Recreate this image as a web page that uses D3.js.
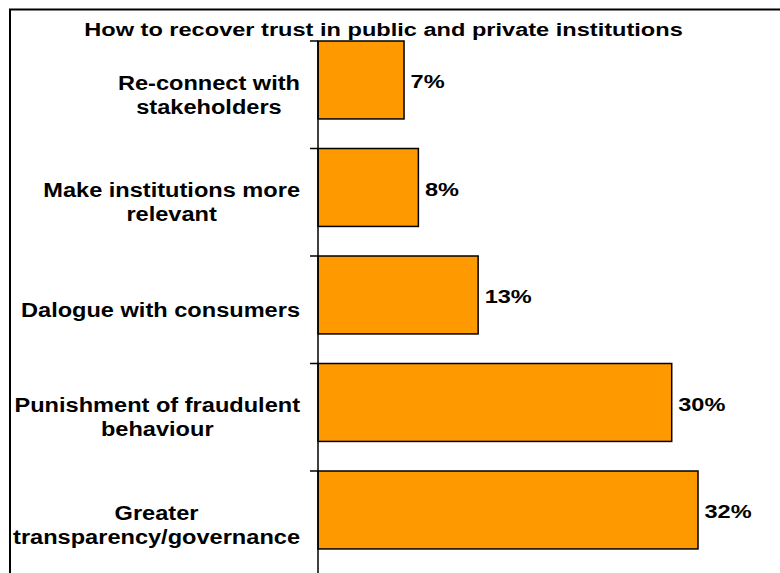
<!DOCTYPE html>
<html><head><meta charset="utf-8">
<script src="https://cdn.jsdelivr.net/npm/d3@7"></script>
<style>body{margin:0;background:#fff}svg{display:block}text{font-family:"Liberation Sans",Arial,sans-serif;font-weight:bold;fill:#000}</style>
</head><body>
<script>
const title = "How to recover trust in public and private institutions";
const categories = [
  ["Re-connect with", "stakeholders"],
  ["Make institutions more", "relevant"],
  ["Dalogue with consumers"],
  ["Punishment of fraudulent", "behaviour"],
  ["Greater", "transparency/governance"]
];
const values = [7.2, 8.4, 13.4, 29.6, 31.8];
const valueLabels = ["7%", "8%", "13%", "30%", "32%"];

const W = 780, H = 573;
const svg = d3.select("body").append("svg").attr("width", W).attr("height", H);

function stretchedText(parent, x, y, str, size, sx, anchor) {
  const g = parent.append("g").attr("transform", `translate(${x},${y}) scale(${sx},1)`);
  return g.append("text").attr("text-anchor", anchor).style("font-size", size + "px").text(str);
}

svg.append("rect").attr("x", 10).attr("y", 9.5).attr("width", 820).attr("height", 700)
  .attr("fill", "none").attr("stroke", "#000").attr("stroke-width", 2);

stretchedText(svg, 383.5, 36, title, 18, 1.31, "middle");

const ids = categories.map((c, i) => i);
const y = d3.scaleBand().domain(ids).range([41, 41 + 5 * 107.5]).paddingInner(0).paddingOuter(0);
const x = d3.scaleLinear().domain([0, 40]).range([318, 796]);
const barH = y.bandwidth() * 0.725;

// bars
svg.selectAll("rect.bar").data(values).join("rect").attr("class", "bar")
  .attr("x", x(0)).attr("y", (d, i) => y(i))
  .attr("width", d => x(d) - x(0)).attr("height", barH)
  .attr("fill", "#FF9900").attr("stroke", "#000").attr("stroke-width", 1.5);

// axis
const axis = d3.axisLeft(y).tickSize(8).tickFormat("");
const g = svg.append("g").attr("transform", `translate(${x(0)},0)`).call(axis);
g.select(".domain").attr("d", `M0,${y(0)}V${H + 20}`).attr("stroke-width", 1.5);
g.selectAll(".tick").attr("transform", (d) => `translate(0,${y(d)})`);
g.selectAll(".tick line").attr("stroke-width", 1.5);

// value labels
values.forEach((d, i) => {
  stretchedText(svg, x(d) + 6.5, y(i) + barH / 2 + 8.5, valueLabels[i], 19, 1.24, "start");
});

// category labels
const lh = 24, CS = 19.5, CSX = 1.21;
categories.forEach((lines, i) => {
  const cy = y(i) + y.bandwidth() / 2;
  const items = lines.map((l, k) => {
    const ty = cy + (k - (lines.length - 1) / 2) * lh + 7;
    return {t: stretchedText(svg, 0, ty, l, CS, CSX, "middle"), ty};
  });
  const maxW = d3.max(items, o => o.t.node().getComputedTextLength()) * CSX;
  items.forEach(o => {
    d3.select(o.t.node().parentNode)
      .attr("transform", `translate(${300 - maxW / 2},${o.ty}) scale(${CSX},1)`);
  });
});
</script>
</body></html>
